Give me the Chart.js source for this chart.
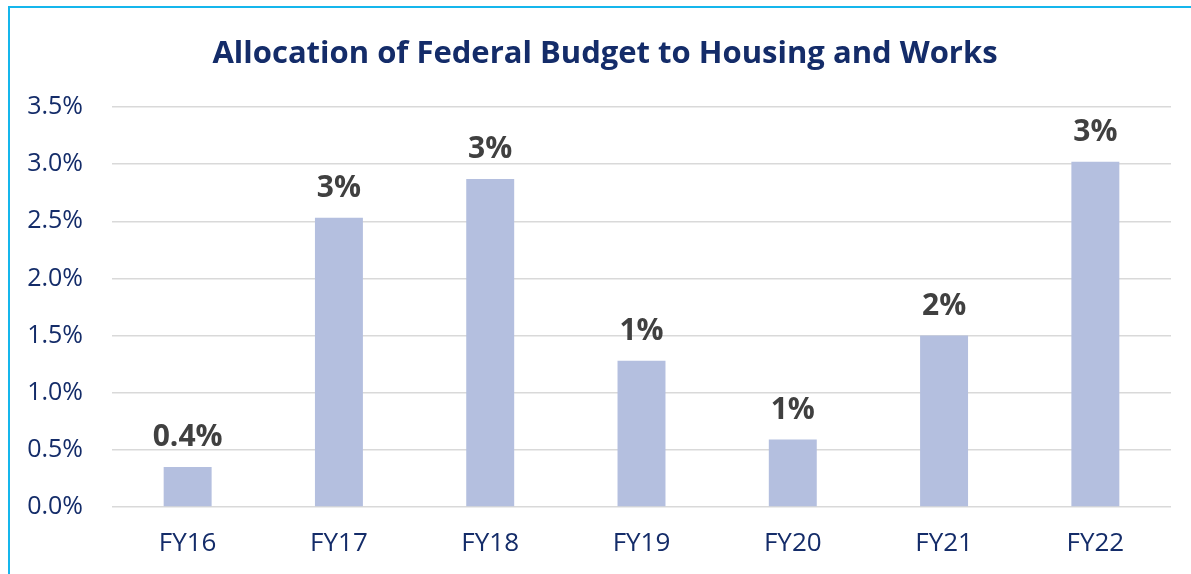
<!DOCTYPE html>
<html>
<head>
<meta charset="utf-8">
<script src="https://cdn.jsdelivr.net/npm/chart.js@4/dist/chart.umd.min.js"></script>
<style>
  html, body { margin: 0; padding: 0; background: #fff; overflow: hidden; }
  #frame {
    position: absolute; left: 8px; top: 6px; width: 1300px; height: 700px;
    border-top: 2px solid #15B6EC; border-left: 2px solid #15B6EC;
  }
  #wrap { position: absolute; left: 0; top: 0; width: 1191px; height: 574px; }
</style>
</head>
<body>
<div id="frame"></div>
<div id="wrap"><canvas id="budget"></canvas></div>
<script>
// fiscal years
const years = ['FY16', 'FY17', 'FY18', 'FY19', 'FY20', 'FY21', 'FY22'];
// share of federal budget, percent
const share = [0.35, 2.53, 2.87, 1.28, 0.59, 1.50, 3.02];
// labels printed above the bars
const shareLabels = ['0.4%', '3%', '3%', '1%', '1%', '2%', '3%'];
const yTicks = [0, 0.5, 1, 1.5, 2, 2.5, 3, 3.5];
const titleText = 'Allocation of Federal Budget to Housing and Works';

const navy = '#142C69';

// title centred on the framed box, not on the plot
const boxTitle = {
    id: 'boxTitle',
    afterDraw(chart) {
        const ctx = chart.ctx;
        ctx.save();
        ctx.font = 'bold 31px "Open Sans"';
        ctx.fillStyle = navy;
        ctx.textAlign = 'center';
        ctx.textBaseline = 'alphabetic';
        ctx.fillText(titleText, 605, 63);
        ctx.restore();
    }
};

// simple value labels above each bar
const barLabels = {
    id: 'barLabels',
    afterDatasetsDraw(chart) {
        const ctx = chart.ctx;
        const meta = chart.getDatasetMeta(0);
        ctx.save();
        ctx.font = 'bold 30px "Open Sans"';
        ctx.fillStyle = '#404040';
        ctx.textAlign = 'center';
        ctx.textBaseline = 'alphabetic';
        meta.data.forEach((bar, i) => {
            ctx.fillText(shareLabels[i], bar.x, bar.y - 21);
        });
        ctx.restore();
    }
};

var ctx = document.getElementById('budget');
var chart = new Chart(ctx, {
    type: 'bar',
    data: {
        labels: years,
        datasets: [{
            data: share,
            backgroundColor: '#B4BFDF',
            borderWidth: 0,
            barPercentage: 0.317,
            categoryPercentage: 1
        }]
    },
    options: {
        responsive: true,
        maintainAspectRatio: false,
        animation: false,
        layout: { padding: { left: 0, right: 20, top: 107, bottom: 17 } },
        plugins: {
            legend: { display: false },
            tooltip: { enabled: false },
            title: { display: false }
        },
        scales: {
            x: {
                afterFit: s => { s.height = 50; },
                grid: { display: false, drawTicks: false },
                border: { display: false },
                ticks: {
                    color: navy,
                    font: { family: 'Open Sans', size: 26, lineHeight: 1.2 },
                    padding: 21
                }
            },
            y: {
                min: 0,
                max: 3.5,
                afterBuildTicks: s => { s.ticks = yTicks.map(v => ({ value: v })); },
                afterFit: s => { s.width = 112; },
                grid: { color: '#D9D9D9', lineWidth: 1.5, drawTicks: false },
                border: { display: false },
                ticks: {
                    color: navy,
                    font: { family: 'Open Sans', size: 25 },
                    padding: 29,
                    callback: v => v.toFixed(1) + '%'
                }
            }
        }
    },
    plugins: [barLabels, boxTitle]
});
</script>
</body>
</html>
